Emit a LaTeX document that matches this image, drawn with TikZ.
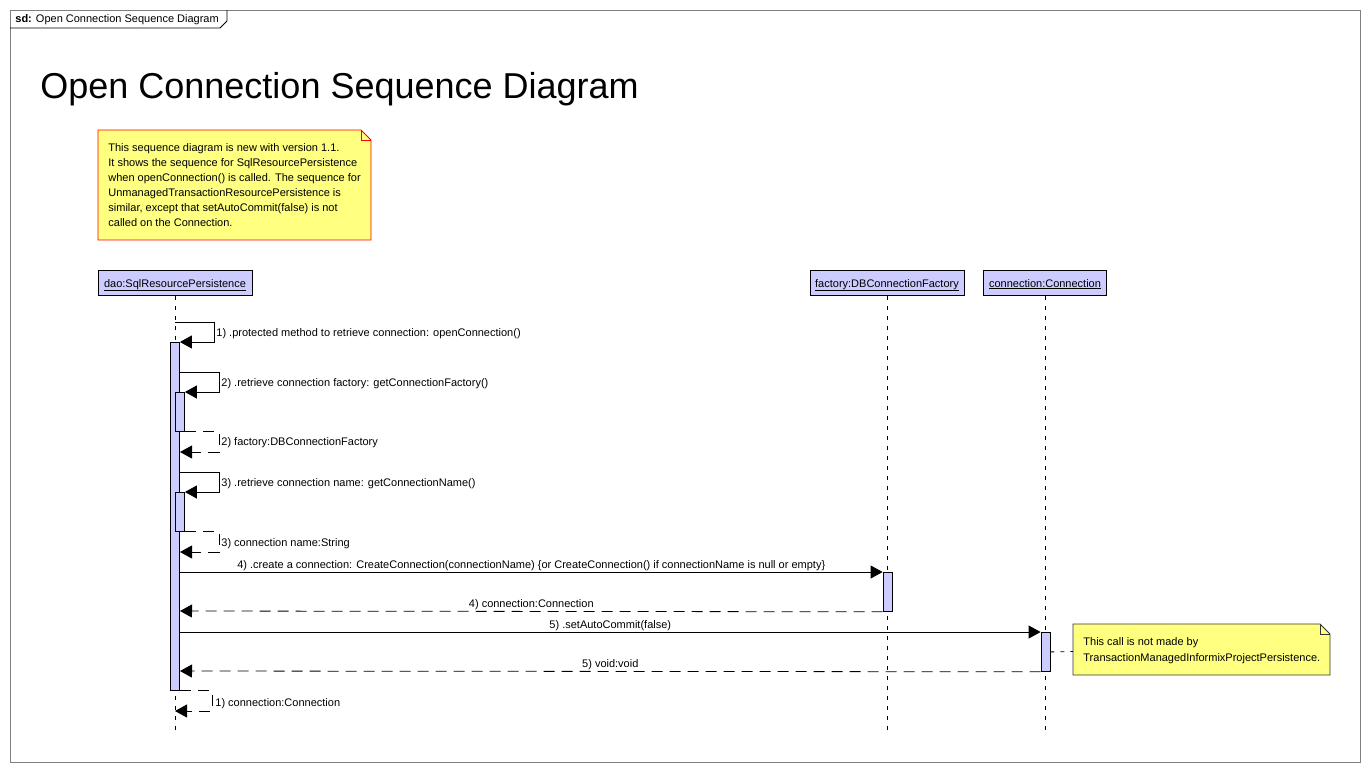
\documentclass[tikz,border=0pt]{standalone}
\usepackage{fontspec}
\setmainfont{Liberation Sans}
\usetikzlibrary{arrows.meta,calc}
\definecolor{headfill}{HTML}{CCCCFF}
\definecolor{notefill}{HTML}{FFFF80}
\tikzset{
  head/.style={draw, fill=headfill, minimum height=25, inner sep=0, text height=8pt, text depth=0pt},
  act/.style={draw, fill=headfill, minimum width=9, inner sep=0, anchor=north},
  lifeline/.style={dash pattern=on 4pt off 6pt},
  msg/.style={-{Triangle[length=12pt,width=13pt]}},
  ret/.style={msg, dash pattern=on 11pt off 7pt},
  lbl/.style={inner sep=1pt},
  notetext/.style={align=left, inner sep=0, anchor=north west, font=\fontsize{11}{15}\selectfont}
}
\begin{document}
\begin{tikzpicture}[x=1pt, y=-1pt, line width=0.8pt, font=\fontsize{11}{13}\selectfont]
\useasboundingbox (0,0) rectangle (1370,772);
\draw[gray] (10,10) rectangle (1360,762);
\draw (10,28) -- (220,28) -- (227,21) -- (227,10);
\node[anchor=west, inner sep=0] (tag) at (15,19.5) {\textbf{sd:} Open Connection Sequence Diagram};
\node[anchor=base west, inner sep=0, font=\fontsize{36}{40}\selectfont] (title) at (40,98) {Open Connection Sequence Diagram};

\draw[red, fill=notefill] (98,130) -- (361,130) -- (371,140) -- (371,240) -- (98,240) -- cycle;
\draw[red] (361,130) -- (361,140) -- (371,140);
\node[notetext] (intro) at (108,143) {This sequence diagram is new with version 1.1.\\
It shows the sequence for SqlResourcePersistence\\
when openConnection() is called. The sequence for\\
UnmanagedTransactionResourcePersistence is\\
similar, except that setAutoCommit(false) is not\\
called on the Connection.};

\node[head, minimum width=154] (dao) at (175,283) {\underline{dao:SqlResourcePersistence}};
\node[head, minimum width=154] (factory) at (887,283) {\underline{factory:DBConnectionFactory}};
\node[head, minimum width=123] (conn) at (1045,283) {\underline{connection:Connection}};
\coordinate (bottom) at (0,732);
\foreach \obj in {dao,factory,conn}
  \draw[lifeline] (\obj.south) -- (\obj.south |- bottom);

\node[act, minimum height=348] (a1) at (175,342) {};
\node[act, minimum height=39] (a2) at (180,392) {};
\node[act, minimum height=39] (a3) at (180,492) {};
\node[act, minimum height=39] (a4) at (887.5,572) {};
\node[act, minimum height=39] (a5) at (1045.5,632) {};

\coordinate (m1) at (175,322);
\draw[msg] (m1) -- ++(39,0) |- (a1.north east);
\node[lbl, anchor=west] (l1) at (215,334) {1) .protected method to retrieve connection: openConnection()};
\coordinate (m2) at (180,372);
\draw[msg] (m2) -- ++(39,0) |- (a2.north east);
\node[lbl, anchor=west] (l2) at (220,384) {2) .retrieve connection factory: getConnectionFactory()};
\coordinate (r2) at (180,452);
\draw[ret] (a2.south east) -- ++(34,0) |- (r2);
\node[lbl, anchor=west] (l2r) at (220,443) {2) factory:DBConnectionFactory};
\coordinate (m3) at (180,472);
\draw[msg] (m3) -- ++(39,0) |- (a3.north east);
\node[lbl, anchor=west] (l3) at (220,484) {3) .retrieve connection name: getConnectionName()};
\coordinate (r3) at (180,552);
\draw[ret] (a3.south east) -- ++(34,0) |- (r3);
\node[lbl, anchor=west] (l3r) at (220,544) {3) connection name:String};

\coordinate (m4) at (180,572);
\draw[msg] (m4) -- (a4.north west);
\node[lbl, anchor=south] (l4) at ($(m4)!0.5!(a4.north west)$) {4) .create a connection: CreateConnection(connectionName) \{or CreateConnection() if connectionName is null or empty\}};
\coordinate (r4) at (180,611);
\draw[ret] (a4.south west) -- (r4);
\node[lbl, anchor=south] (l4r) at ($(r4)!0.5!(a4.south west)$) {4) connection:Connection};
\coordinate (m5) at (180,632);
\draw[msg] (m5) -- (a5.north west);
\node[lbl, anchor=south] (l5) at ($(m5)!0.5!(a5.north west)$) {5) .setAutoCommit(false)};
\coordinate (r5) at (180,671);
\draw[ret] (a5.south west) -- (r5);
\node[lbl, anchor=south] (l5r) at ($(r5)!0.5!(a5.south west)$) {5) void:void};
\coordinate (r1) at (175,711);
\draw[ret] (a1.south east) -- ++(32,0) |- (r1);
\node[lbl, anchor=west] (l1r) at (214,704) {1) connection:Connection};

\draw[draw=black!80, fill=notefill] (1073,624) -- (1320,624) -- (1330,634) -- (1330,675) -- (1073,675) -- cycle;
\draw[black!80] (1320,624) -- (1320,634) -- (1330,634);
\node[notetext, font=\fontsize{11}{16}\selectfont] (callnote) at (1083,637) {This call is not made by\\
TransactionManagedInformixProjectPersistence.};
\draw[lifeline] (a5.east) -- (1073,651.5);
\end{tikzpicture}
\end{document}
